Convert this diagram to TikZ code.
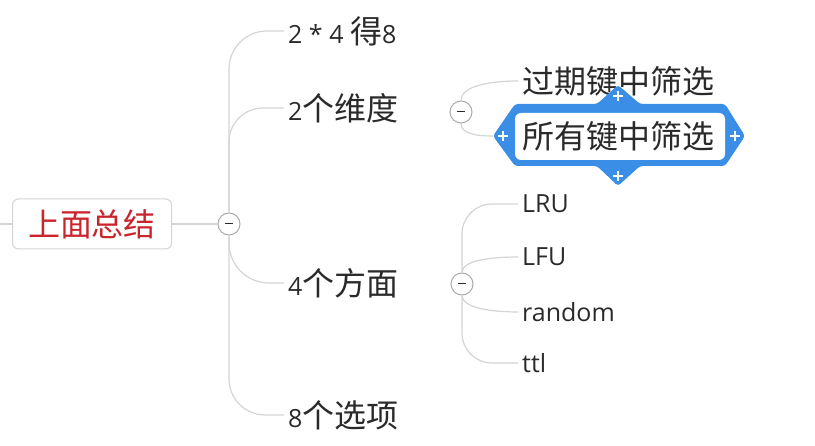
\documentclass[tikz,border=0pt]{standalone}
\usepackage{fontspec}
\setmainfont{Open Sans}
\newfontfamily\cjk{Noto Sans CJK SC}
\newcommand{\hanzi}[1]{{\cjk\fontsize{32}{38}\selectfont #1}}
\definecolor{linegray}{HTML}{D4D4D4}
\definecolor{textgray}{HTML}{2A2A2A}
\definecolor{rootred}{HTML}{C9252C}
\definecolor{selblue}{HTML}{3A8EE6}
\tikzset{
	leaf/.style={anchor=west, inner xsep=4pt, inner ysep=2pt, text=textgray, font=\fontsize{25}{30}\selectfont},
	link/.style={draw=linegray, line width=1.2pt},
	fold/.style={circle, draw=linegray!80!black, fill=white, minimum size=22pt, inner sep=0pt, line width=1pt,
		path picture={\draw[textgray, line width=1pt] ([xshift=-4pt]path picture bounding box.center) -- ([xshift=4pt]path picture bounding box.center);}},
	root/.style={draw=linegray, rounded corners=6pt, line width=1pt, minimum width=159pt, minimum height=50pt, text=rootred},
	plus/.style={white, line width=2.2pt}
}
\begin{document}
\begin{tikzpicture}[x=1pt, y=-1pt]
		\useasboundingbox (0,0) rectangle (815,446);
		% root and first fold
		\coordinate (in) at (0,224);
		\node[root] (top) at (92,224) {\hanzi{上面总结}};
		\node[fold] (f1) at (229,224) {};
		\node[leaf] (a1) at (284,31) {2 * 4 \hanzi{得}8};
		\node[leaf] (a2) at (284,108) {2\hanzi{个维度}};
		\node[leaf] (a3) at (284,283) {4\hanzi{个方面}};
		\node[leaf] (a4) at (284,415) {8\hanzi{个选项}};
		% second level
		\node[fold] (f2) at (461,112) {};
		\node[fold] (f3) at (462,284) {};
		\node[leaf] (b1) at (518,81) {\hanzi{过期键中筛选}};
		% selected topic
		\coordinate (seltip) at (493,136);
		\fill[selblue, rounded corners=3pt] (seltip) -- (515,104) -- (597,104) -- (618,85) -- (640,104) -- (725,104) -- (745,136) -- (725,166) -- (640,166) -- (618,186) -- (597,166) -- (515,166) -- cycle;
		\fill[white, rounded corners=6pt] (515,113) rectangle (725,160);
		\node[leaf] (b2) at (518,136) {\hanzi{所有键中筛选}};
		\foreach \px/\py in {618/96, 618/176, 503/136, 735/136}
			\draw[plus] (\px-5,\py) -- (\px+5,\py) (\px,\py-5) -- (\px,\py+5);
		\node[leaf] (c1) at (518,204) {LRU};
		\node[leaf] (c2) at (518,257) {LFU};
		\node[leaf] (c3) at (518,312) {random};
		\node[leaf] (c4) at (518,363) {ttl};
		% connectors
		\draw[link] (in) -- (top.west);
		\draw[link] (top.east) -- (f1.west);
		\draw[link, rounded corners=38pt] (f1.north) |- (a1.west);
		\draw[link, rounded corners=34pt] (f1.north) |- (a2.west);
		\draw[link, rounded corners=40pt] (f1.south) |- (a3.west);
		\draw[link, rounded corners=36pt] (f1.south) |- (a4.west);
		\draw[link] (f2.north) .. controls +(0,-14) and +(-30,0) .. (b1.west);
		\draw[link] (f2.south) .. controls +(0,10) and +(-18,0) .. (seltip);
		\draw[link, rounded corners=30pt] (f3.north) |- (c1.west);
		\draw[link] (f3.north) .. controls +(0,-12) and +(-28,0) .. (c2.west);
		\draw[link] (f3.south) .. controls +(0,12) and +(-28,0) .. (c3.west);
		\draw[link, rounded corners=30pt] (f3.south) |- (c4.west);
	\end{tikzpicture}
\end{document}
